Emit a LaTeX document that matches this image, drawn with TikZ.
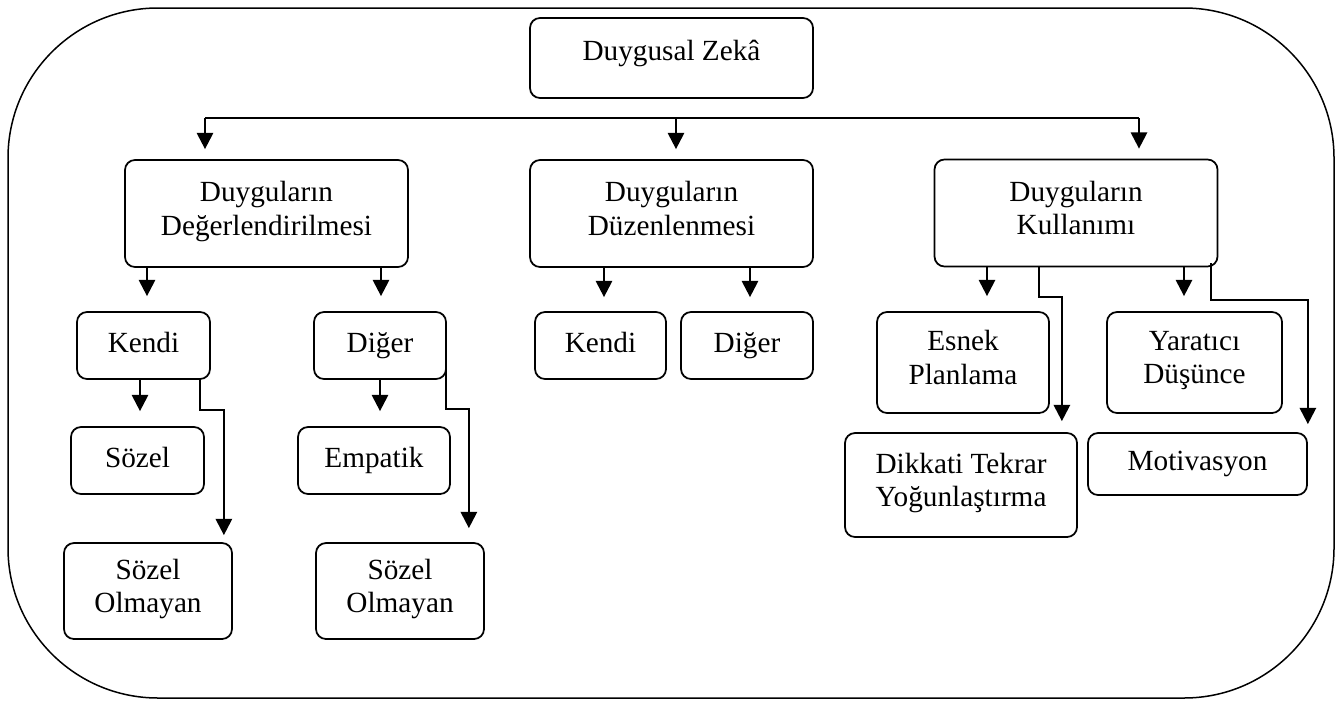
\documentclass[tikz,border=0pt]{standalone}
\usepackage{fontspec}
\setmainfont{Liberation Serif}
\usepackage{tikz}
\usetikzlibrary{arrows.meta,shapes,backgrounds,fit}

\begin{document}
\begin{tikzpicture}[x=0.4pt,y=-0.4pt]
      \tikzstyle{box}=[draw=black, line width=0.7pt, rounded corners=4pt, inner sep=0pt, align=center, font=\fontsize{11.7}{13.5}\selectfont, execute at begin node=\strut, execute at end node=\strut]
      \tikzstyle{wide}=[box, minimum width=113.2pt, minimum height=42.8pt]
      \tikzstyle{small}=[box, minimum height=26.8pt]
      \tikzstyle{conn}=[line width=0.9pt, -{Triangle[length=6.5pt,width=6.5pt]}]
      \tikzstyle{busline}=[line width=0.9pt]
      \tikzstyle{outer}=[line width=0.6pt, rounded corners=60pt]

      \useasboundingbox (0,0) rectangle (1339,700);
      \draw[outer] (8,8) rectangle (1334,698);

      % top level
      \node (zeka) [box, minimum width=113.2pt, minimum height=32pt, text height=8pt, text depth=6.4pt] at (671.5,58) {Duygusal Zekâ};

      \node (deg) [wide] at (266.5,213.5) {Duyguların\\Değerlendirilmesi};
      \node (duz) [wide] at (671.5,213.5) {Duyguların\\Düzenlenmesi};
      \node (kul) [wide] at (1076,213) {Duyguların\\Kullanımı};

      \coordinate (busL) at (205,118);
      \coordinate (busM) at (676,118);
      \coordinate (busR) at (1139,118);
      \draw[busline] (busL) -- (busR);
      \draw[conn, shorten >=4pt] (busL) -- (busL |- deg.north);
      \draw[conn, shorten >=4pt] (busM) -- (busM |- duz.north);
      \draw[conn, shorten >=4pt] (busR) -- (busR |- kul.north);

      % Degerlendirilmesi
      \begin{scope}
        \node (kendiA) [small, minimum width=53.2pt] at (143.5,345.5) {Kendi};
        \node (digerA) [small, minimum width=52.8pt] at (380,345.5) {Diğer};
        \node (sozelA) [small, minimum width=53.2pt] at (137.5,460.5) {Sözel};
        \node (empatik) [small, minimum width=60.8pt] at (374,460.5) {Empatik};
        \node (olmA) [box, minimum width=67.2pt, minimum height=38.4pt] at (148,591) {Sözel\\Olmayan};
        \node (olmB) [box, minimum width=67.2pt, minimum height=38.4pt] at (400,591) {Sözel\\Olmayan};

        \coordinate (d1) at (147,267);
        \coordinate (d2) at (381,267);
        \draw[conn, shorten >=6pt] (d1) -- (d1 |- kendiA.north);
        \draw[conn, shorten >=6pt] (d2) -- (d2 |- digerA.north);

        \coordinate (a1) at (140,379);
        \coordinate (a2) at (200,379);
        \coordinate (b1) at (380,379);
        \coordinate (b2) at (446,357);
        \draw[conn, shorten >=6pt] (a1) -- (a1 |- sozelA.north);
        \draw[conn, shorten >=2.8pt] (a2) -- ++(0,31) -| ([xshift=-3.6pt]olmA.north east);
        \draw[conn, shorten >=6pt] (b1) -- (b1 |- empatik.north);
        \draw[conn, shorten >=5.6pt] (b2) -- ++(0,52) -| ([xshift=-6.4pt]olmB.north east);
      \end{scope}

      % Duzenlenmesi
      \begin{scope}
        \node (kendiB) [small, minimum width=52.4pt] at (600.5,345.5) {Kendi};
        \node (digerB) [small, minimum width=52.8pt] at (747,345.5) {Diğer};

        \coordinate (z1) at (604,267);
        \coordinate (z2) at (750,267);
        \draw[conn, shorten >=5.6pt] (z1) -- (z1 |- kendiB.north);
        \draw[conn, shorten >=5.6pt] (z2) -- (z2 |- digerB.north);
      \end{scope}

      % Kullanimi
      \begin{scope}
        \node (esnek) [box, minimum width=68.8pt, minimum height=40.4pt] at (963,362.5) {Esnek\\Planlama};
        \node (yarat) [box, minimum width=70pt, minimum height=40.4pt] at (1194.5,362.5) {Yaratıcı\\Düşünce};
        \node (dikkat) [box, minimum width=92.8pt, minimum height=41.6pt] at (961,485) {Dikkati Tekrar\\Yoğunlaştırma};
        \node (motiv) [box, minimum width=87.6pt, minimum height=24.8pt] at (1197.5,464) {Motivasyon};

        \coordinate (k1) at (987,266);
        \coordinate (k2) at (1039,266);
        \coordinate (k3) at (1184,266);
        \coordinate (k4) at (1211,263);
        \draw[conn, shorten >=6pt] (k1) -- (k1 |- esnek.north);
        \draw[conn, shorten >=4.4pt] (k2) -- ++(0,31) -| ([xshift=-6.4pt]dikkat.north east);
        \draw[conn, shorten >=6pt] (k3) -- (k3 |- yarat.north);
        \draw[conn, shorten >=3.2pt] (k4) -- ++(0,37) -| (motiv.north east);
      \end{scope}
\end{tikzpicture}
\end{document}
